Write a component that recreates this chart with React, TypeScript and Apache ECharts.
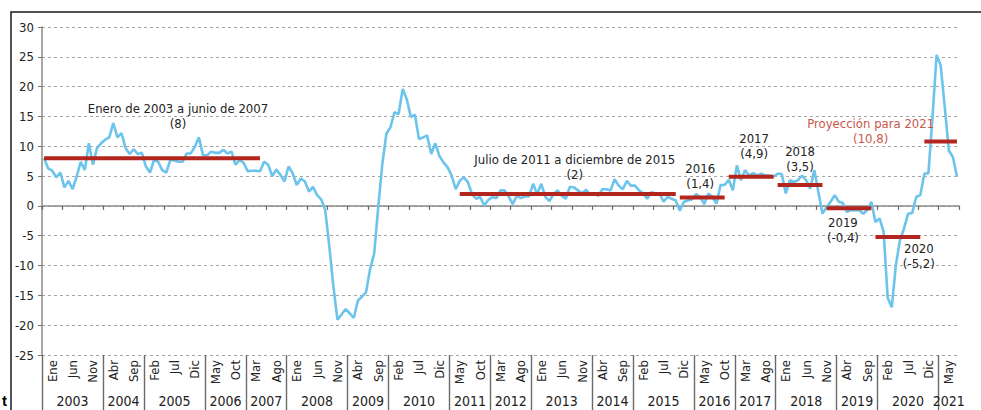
import React, { useEffect, useRef } from "react";
import * as echarts from "echarts";

// ---------- data ----------
const monthNames = ["Ene", "Feb", "Mar", "Abr", "May", "Jun", "Jul", "Ago", "Sep", "Oct", "Nov", "Dic"];
const firstYear = 2003;
const lastYear = 2021;
const lastMonthOfLastYear = 9;

const v2003 = [8.0, 6.3, 5.9, 4.8, 5.6, 3.1, 4.2, 2.8, 4.9, 7.4, 6.0, 10.5];
const v2004 = [6.9, 9.7, 10.5, 11.1, 11.5, 13.9, 11.5, 12.2, 9.7, 8.7, 9.5, 8.7];
const v2005 = [8.9, 6.6, 5.6, 7.7, 7.4, 6.0, 5.6, 7.7, 7.6, 7.4, 7.4, 8.8];
const v2006 = [8.8, 9.9, 11.5, 8.5, 8.5, 9.1, 8.9, 8.9, 9.4, 8.8, 9.1, 6.9];
const v2007 = [7.7, 7.2, 5.8, 5.9, 5.9, 5.8, 7.4, 6.9, 5.0, 6.1, 5.2, 4.1];
const v2008 = [6.6, 5.5, 3.5, 4.6, 4.1, 2.4, 3.2, 1.8, 1.1, -0.7, -6.8, -13.5];
const v2009 = [-19.1, -18.2, -17.3, -18.0, -18.8, -15.9, -15.2, -14.5, -10.6, -8.0, -0.2, 7.0];
const v2010 = [12.1, 13.2, 15.7, 15.4, 19.6, 17.9, 14.9, 15.3, 11.2, 11.5, 11.8, 8.7];
const v2011 = [10.5, 8.4, 7.3, 6.5, 5.1, 2.8, 4.2, 4.8, 4.0, 2.0, 1.2, 1.5];
const v2012 = [0.1, 1.0, 1.5, 1.3, 2.6, 2.6, 1.6, 0.3, 1.7, 1.3, 1.6, 1.6];
const v2013 = [3.7, 2.0, 3.7, 1.5, 0.8, 2.0, 2.6, 1.7, 1.2, 3.2, 3.1, 2.6];
const v2014 = [2.1, 2.7, 1.9, 2.1, 1.7, 2.8, 2.8, 2.6, 4.5, 3.4, 2.8, 4.2];
const v2015 = [3.4, 3.4, 2.6, 2.1, 1.2, 2.3, 2.1, 2.1, 0.7, 1.5, 1.2, 0.9];
const v2016 = [-0.8, 0.7, 0.9, 1.1, 2.0, 1.5, 0.3, 2.1, 1.5, 0.4, 3.5, 3.5];
const v2017 = [4.4, 2.6, 6.8, 4.3, 6.0, 5.1, 5.5, 5.1, 5.4, 5.1, 5.1, 4.9];
const v2018 = [5.4, 5.4, 2.1, 4.3, 4.0, 4.3, 5.1, 4.3, 2.9, 6.0, 2.3, -1.3];
const v2019 = [-0.2, 0.7, 1.8, 0.7, 0.5, -1.0, -0.7, -0.7, -0.7, -1.3, -0.7, 0.7];
const v2020 = [-2.7, -2.1, -4.3, -15.4, -17.0, -10.0, -5.8, -3.8, -1.3, -1.2, 1.5, 1.8];
const v2021 = [5.4, 5.5, 14.9, 25.3, 23.6, 16.6, 9.3, 8.2, 4.9];

const avgTitles = [
  "Enero de 2003 a junio de 2007",
  "Julio de 2011 a diciembre de 2015",
  "2016",
  "2017",
  "2018",
  "2019",
  "2020",
  "Proyección para 2021",
];
const avgValues = [8, 2, 1.4, 4.9, 3.5, -0.4, -5.2, 10.8];
const avgStarts = ["2003-01", "2011-07", "2016-01", "2017-01", "2018-01", "2019-01", "2020-01", "2021-01"];
const avgEnds = ["2007-06", "2015-12", "2016-12", "2017-12", "2018-12", "2019-12", "2020-12", "2021-09"];

const yMin = -25;
const yMax = 30;
const yStep = 5;
const monthsPerLabel = 5;

// ---------- derived ----------
const growth = [
  ...v2003, ...v2004, ...v2005, ...v2006, ...v2007, ...v2008, ...v2009, ...v2010, ...v2011,
  ...v2012, ...v2013, ...v2014, ...v2015, ...v2016, ...v2017, ...v2018, ...v2019, ...v2020, ...v2021,
];

const months: string[] = [];
for (let y = firstYear; y <= lastYear; y++) {
  for (let m = 1; m <= 12; m++) {
    if (y === lastYear && m > lastMonthOfLastYear) break;
    months.push(`${y}-${String(m).padStart(2, "0")}`);
  }
}

const bandCount = Math.ceil(months.length / monthsPerLabel);
const halfSteps: string[] = [];
for (let i = 0; i <= months.length * 2; i++) halfSteps.push("h" + i);

const bandYear = (b: number) => firstYear + Math.floor((b * monthsPerLabel) / 12);
const separatorSet = new Set<number>();
const yearCenters = new Map<number, string>();
{
  let groupStart = 0;
  for (let b = 0; b <= bandCount; b++) {
    if (b === bandCount || bandYear(b) !== bandYear(groupStart)) {
      yearCenters.set(5 * (groupStart + b), String(bandYear(groupStart)));
      separatorSet.add(10 * groupStart);
      groupStart = b;
    }
  }
}

const fmtNum = (v: number) => String(v).replace(".", ",");

// ---------- styles ----------
const FONT = "'Liberation Sans Narrow', 'DejaVu Sans Condensed', 'Arial Narrow', sans-serif";
const TEXT = "#222";
const BLUE = "#6cc4ec";
const RED = "#b3261e";
const RED_TEXT = "#c9574a";
const labelOffsets = [
  [28, -42],
  [9, -27],
  [0, -22],
  [5, -31],
  [2, -26],
  [-4, 22],
  [23, 19],
  [-70, -11],
];

const avgSeries = avgTitles.map((t, k) => {
  const s = months.indexOf(avgStarts[k]);
  const e = months.indexOf(avgEnds[k]);
  const data = months.map((_, i) => (i >= s && i <= e ? avgValues[k] : null));
  const anchor = s + Math.floor((e - s) / 2);
  const isProj = k === avgTitles.length - 1;
  return {
    type: "line",
    data,
    xAxisIndex: 0,
    symbol: "none",
    connectNulls: false,
    lineStyle: { color: RED, width: 4 },
    z: 3,
    markPoint: {
      symbol: "circle",
      symbolSize: 0,
      silent: true,
      data: [
        {
          coord: [months[anchor], avgValues[k]],
          label: {
            show: true,
            position: "inside",
            offset: labelOffsets[k],
            formatter: `${t}\n(${fmtNum(avgValues[k])})`,
            color: isProj ? RED_TEXT : TEXT,
            fontSize: 13,
            lineHeight: 15,
            fontFamily: FONT,
            align: "center",
          },
        },
      ],
    },
  };
});

const option: any = {
  animation: false,
  textStyle: { fontFamily: FONT },
  grid: { left: 42, right: 22, top: 27, bottom: 55, containLabel: false, outerBoundsMode: "none" },
  xAxis: [
    {
      type: "category",
      data: months,
      boundaryGap: true,
      axisLine: { onZero: true, lineStyle: { color: "#8a8a8a", width: 1.5 } },
      axisTick: { show: true, interval: monthsPerLabel - 1, length: 4, lineStyle: { color: "#666", width: 1.2 } },
      axisLabel: { show: false },
      splitLine: { show: false },
    },
    {
      type: "category",
      data: halfSteps,
      boundaryGap: false,
      position: "bottom",
      axisLine: { show: false, onZero: false },
      axisTick: {
        show: true,
        interval: (i: number) => separatorSet.has(i),
        length: 55,
        lineStyle: { color: "#6a6a6a", width: 1.4 },
      },
      axisLabel: {
        show: true,
        interval: (i: number) => i % 10 === 5,
        rotate: 90,
        margin: 5,
        fontSize: 13,
        color: TEXT,
        fontFamily: FONT,
        formatter: (val: string) => {
          const i = parseInt(val.slice(1), 10);
          if (i % 10 !== 5) return "";
          const m = ((i - 5) / 10) * monthsPerLabel;
          return monthNames[m % 12];
        },
      },
      splitLine: { show: false },
    },
    {
      type: "category",
      data: halfSteps,
      boundaryGap: false,
      position: "bottom",
      axisLine: { show: false, onZero: false },
      axisTick: { show: false },
      axisLabel: {
        show: true,
        interval: (i: number) => yearCenters.has(i),
        margin: 39,
        fontSize: 14,
        color: TEXT,
        fontFamily: FONT,
        formatter: (val: string) => yearCenters.get(parseInt(val.slice(1), 10)) || "",
      },
      splitLine: { show: false },
    },
  ],
  yAxis: {
    type: "value",
    min: yMin,
    max: yMax,
    interval: yStep,
    axisLine: { show: true, onZero: false, lineStyle: { color: "#8a8a8a", width: 1.5 } },
    axisTick: { show: true, length: 4, lineStyle: { color: "#777" } },
    axisLabel: { fontSize: 13, color: TEXT, margin: 8, fontFamily: FONT },
    splitLine: { show: true, lineStyle: { type: [3, 3], color: "#a5a5a5", width: 1 } },
  },
  series: [
    {
      type: "line",
      data: growth,
      xAxisIndex: 0,
      symbol: "none",
      lineStyle: { color: BLUE, width: 2.6 },
      z: 2,
    },
    ...avgSeries,
  ],
  graphic: [
    {
      type: "rect",
      silent: true,
      shape: { x: 11, y: 12, width: 1000, height: 500 },
      style: { fill: "none", stroke: "#1a1a1a", lineWidth: 1.5 },
    },
    {
      type: "text",
      silent: true,
      left: 2,
      top: 393,
      style: { text: "t", font: "bold 15px 'Liberation Sans', sans-serif", fill: "#000" },
    },
  ],
};

export default function App() {
  const ref = useRef<HTMLDivElement>(null);
  useEffect(() => {
    document.body.style.margin = "0";
    const chart = echarts.init(ref.current as HTMLDivElement, null, { renderer: "svg" });
    chart.setOption(option);
    return () => chart.dispose();
  }, []);
  return <div ref={ref} style={{ width: 981, height: 410 }} />;
}
